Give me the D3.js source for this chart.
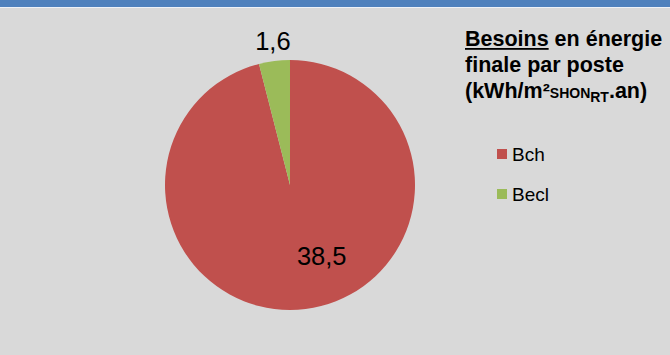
<!DOCTYPE html>
<html>
<head>
<meta charset="utf-8">
<script src="https://cdn.jsdelivr.net/npm/d3@7"></script>
<style>
  html, body { margin: 0; padding: 0; background: #d9d9d9; }
  svg { display: block; font-family: "Liberation Sans", Arial, sans-serif; }
</style>
</head>
<body>
<div id="chart"></div>
<script>
const categories = ["Bch", "Becl"];
const values = [38.5, 1.6];
const labels = ["38,5", "1,6"];
const colors = ["#c0504d", "#9bbb59"];

const width = 670, height = 355;
const cx = 290, cy = 185, radius = 125;

const svg = d3.select("#chart").append("svg")
  .attr("width", width)
  .attr("height", height);

// background + top band
svg.append("rect").attr("width", width).attr("height", height).attr("fill", "#d9d9d9");
svg.append("rect").attr("x", 0).attr("y", 0).attr("width", width).attr("height", 7).attr("fill", "#4f81bd");
svg.append("rect").attr("x", 0).attr("y", 7).attr("width", width).attr("height", 1).attr("fill", "#eef2f8");

const data = categories.map((c, i) => ({ name: c, value: values[i], label: labels[i], color: colors[i] }));

const pie = d3.pie().sort(null).value(d => d.value);
const arcs = pie(data);
const arc = d3.arc().innerRadius(0).outerRadius(radius);

const g = svg.append("g").attr("transform", `translate(${cx},${cy})`);

g.selectAll("path")
  .data(arcs)
  .join("path")
  .attr("d", arc)
  .attr("fill", d => d.data.color);

// data labels: Bch inside (best fit), Becl outside
const outerLabel = d3.arc().innerRadius(radius + 20).outerRadius(radius + 20);
const innerLabel = d3.arc().innerRadius(radius * 0.62).outerRadius(radius * 0.62);

g.selectAll("text.lbl")
  .data(arcs)
  .join("text")
  .attr("class", "lbl")
  .attr("transform", (d, i) => {
    if (i === 0) {
      const [x, y] = innerLabel.centroid(d);
      return `translate(${x + 22},${y - 6})`;
    }
    const [x, y] = outerLabel.centroid(d);
    return `translate(${x + 1},${y})`;
  })
  .attr("text-anchor", "middle")
  .attr("dy", "0.36em")
  .style("font-size", "25.5px")
  .style("fill", "#000")
  .text(d => d.data.label);

// legend title
const title = svg.append("g").attr("transform", "translate(465,0)")
  .style("font-weight", "bold").style("font-size", "21.5px").style("fill", "#000");

const t1 = title.append("text").attr("y", 46);
const under = t1.append("tspan").text("Besoins");
t1.append("tspan").text(" en énergie");
const uw = under.node().getComputedTextLength();
title.append("rect").attr("x", 0).attr("y", 48).attr("width", uw).attr("height", 1.8).attr("fill", "#000");

title.append("text").attr("y", 72).text("finale par poste");

const t3 = title.append("text").attr("y", 98);
t3.append("tspan").text("(kWh/m²");
t3.append("tspan").style("font-size", "14px").text("SHON");
t3.append("tspan").style("font-size", "14px").attr("dy", 4).text("RT");
t3.append("tspan").attr("dy", -4).text(".an)");

// legend items
const legend = svg.append("g").attr("transform", "translate(497,149)");
const item = legend.selectAll("g")
  .data(data)
  .join("g")
  .attr("transform", (d, i) => `translate(0,${i * 40})`);

item.append("rect")
  .attr("width", 10).attr("height", 10)
  .attr("fill", d => d.color);

item.append("text")
  .attr("x", 15).attr("y", 12)
  .style("font-size", "19px")
  .style("fill", "#000")
  .text(d => d.name);
</script>
</body>
</html>
